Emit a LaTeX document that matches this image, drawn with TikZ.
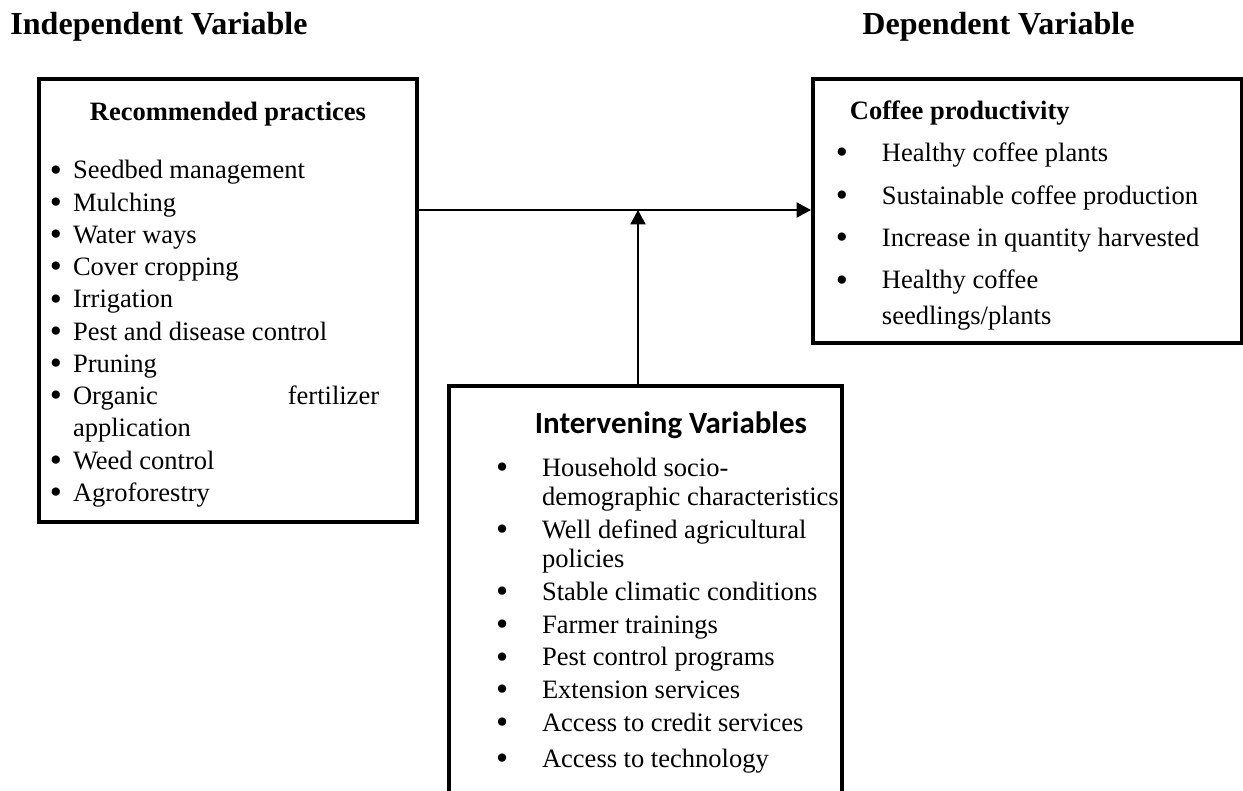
\documentclass[tikz,border=0pt]{standalone}
\usepackage{fontspec}
\usepackage{graphicx}
\setmainfont{Liberation Serif}
\newfontfamily\headfont{Carlito}
\usetikzlibrary{positioning,arrows.meta}

% bullet in a box of given width
\newcommand{\bul}[1]{\makebox[#1][l]{\raisebox{-0.08em}{\scalebox{1.3}{\textbullet}}}}

\begin{document}
\begin{tikzpicture}[x=0.4525pt,y=-0.4525pt,
    block/.style={rectangle,draw,line width=1.8pt,inner sep=0pt,anchor=north west},
    arrow/.style={line width=0.9pt,-{Triangle[length=6.5pt,width=6.8pt]}},
    heading/.style={font=\fontsize{14.5pt}{16pt}\selectfont\bfseries,inner sep=0pt,anchor=base west}]

\useasboundingbox (0,0) rectangle (1243,791);
\clip (0,0) rectangle (1243,791);

\node[heading] (indephead) at (10,35) {Independent Variable};
\node[heading] (dephead) at (862,35) {Dependent Variable};

% independent variable box
\node[block] (recbox) at (37,77) {\parbox[t][200.5pt][t]{171pt}{%
  \fontsize{12pt}{14.6pt}\selectfont
  \null\vspace{4.4pt}
  {\centering\bfseries Recommended practices\par}
  \vspace{11.6pt}
  \leftskip=4.9pt
  \bul{10.5pt}Seedbed management\par
  \bul{10.5pt}Mulching\par
  \bul{10.5pt}Water ways\par
  \bul{10.5pt}Cover cropping\par
  \bul{10.5pt}Irrigation\par
  \bul{10.5pt}Pest and disease control\par
  \bul{10.5pt}Pruning\par
  \bul{10.5pt}\makebox[138.5pt][s]{Organic\hfill fertilizer}\\
  \hspace*{10.5pt}application\par
  \bul{10.5pt}Weed control\par
  \bul{10.5pt}Agroforestry\par}};

% dependent variable box
\node[block] (prodbox) at (811,77) {\parbox[t][119.5pt][t]{194.1pt}{%
  \fontsize{12pt}{16.3pt}\selectfont
  \null\vspace{1.9pt}
  \leftskip=16.7pt\textbf{Coffee productivity}\par
  \leftskip=10.4pt\parskip=2.9pt
  \bul{20.8pt}Healthy coffee plants\par
  \bul{20.8pt}Sustainable coffee production\par
  \bul{20.8pt}Increase in quantity harvested\par
  \bul{20.8pt}Healthy coffee\\
  \hspace*{20.8pt}seedlings/plants\par}};

% intervening variables box
\node[block] (intbox) at (447,384) {\parbox[t][190pt][t]{177.8pt}{%
  \fontsize{12pt}{13.3pt}\selectfont
  \null\vspace{8.2pt}
  \leftskip=38.9pt{\headfont\bfseries\fontsize{14pt}{13.3pt}\selectfont Intervening Variables\par}
  \vspace{4.6pt}
  \leftskip=21.3pt\parskip=1.5pt
  \bul{20.8pt}Household socio-\\
  \hspace*{20.8pt}demographic characteristics\par
  \bul{20.8pt}Well defined agricultural\\
  \hspace*{20.8pt}policies\par
  \bul{20.8pt}Stable climatic conditions\par
  \bul{20.8pt}Farmer trainings\par
  \bul{20.8pt}Pest control programs\par
  \bul{20.8pt}Extension services\par
  \bul{20.8pt}Access to credit services\par
  \vspace{1.4pt}
  \bul{20.8pt}Access to technology\par}};

\coordinate (junction) at (638,210);

\draw[arrow] (recbox.east |- junction) -- (prodbox.west |- junction);
\draw[arrow] (intbox.north -| junction) -- (junction);

\end{tikzpicture}
\end{document}
